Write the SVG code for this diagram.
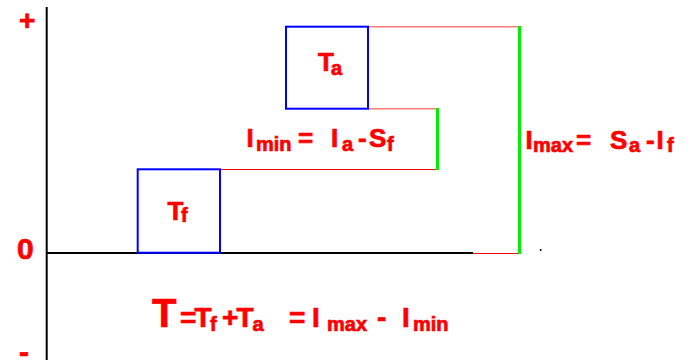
<svg xmlns="http://www.w3.org/2000/svg" width="691" height="360" viewBox="0 0 691 360">
<style>
text{font-family:"Liberation Sans",Arial,sans-serif;font-weight:bold;fill:#ff0000;stroke:#ff0000;stroke-width:0.7}
.b{font-size:26px}.s{font-size:20px}.m{font-size:28px}
.box{fill:none;stroke:#0000ff;stroke-width:2}
.axis{stroke:#000;stroke-width:2;fill:none}
.r{stroke:#ff0000;stroke-width:1;fill:none}
.rp{stroke:#ff7a7a;stroke-width:1.5;fill:none}
.g{stroke:#00ee00;stroke-width:3;fill:none}
</style>
<rect width="691" height="360" fill="#fff"/>
<g id="axes">
<line class="axis" x1="46.7" y1="7" x2="46.7" y2="360"/>
<line class="axis" x1="46" y1="253" x2="473" y2="253"/>
<text x="19" y="30" style="font-size:28px">+</text>
<text x="17" y="259" style="font-size:30px">0</text>
<text x="19" y="362" style="font-size:30px">-</text>
</g>
<g id="connectors">
<line class="rp" x1="368" y1="26.7" x2="519" y2="26.7"/>
<line class="rp" x1="368" y1="108.7" x2="437" y2="108.7"/>
<line class="r" x1="220" y1="169.5" x2="437" y2="169.5"/>
<line class="r" x1="473" y1="253.5" x2="519" y2="253.5"/>
<line class="g" x1="437.5" y1="108" x2="437.5" y2="170"/>
<line class="g" x1="519.5" y1="26" x2="519.5" y2="254"/>
<circle cx="540.7" cy="250" r="1" fill="#000"/>
</g>
<g id="Ta">
<rect class="box" x="286" y="26.7" width="82" height="82"/>
<text><tspan class="b" x="318" y="71">T</tspan><tspan class="s" x="331" y="75">a</tspan></text>
</g>
<g id="Tf">
<rect class="box" x="137.7" y="169.3" width="82.3" height="83.4"/>
<text><tspan class="b" x="167.5" y="220">T</tspan><tspan class="s" x="181" y="222">f</tspan></text>
</g>
<g id="Imin">
<text><tspan class="b" x="246.5" y="147">I</tspan><tspan class="s" x="256" y="151">min</tspan><tspan class="b" x="298" y="147">=</tspan><tspan class="b" x="331" y="147">I</tspan><tspan class="s" x="342" y="151">a</tspan><tspan class="b" x="358" y="147">-</tspan><tspan class="b" x="369" y="147">S</tspan><tspan class="s" x="387" y="151">f</tspan></text>
</g>
<g id="Imax">
<text><tspan class="b" x="525.5" y="148.5">I</tspan><tspan class="s" x="533" y="152">max</tspan><tspan class="b" x="576" y="148.5">=</tspan><tspan class="b" x="610" y="148.5">S</tspan><tspan class="s" x="629" y="152">a</tspan><tspan class="b" x="646" y="148.5">-</tspan><tspan class="b" x="656.5" y="148.5">I</tspan><tspan class="s" x="667" y="152">f</tspan></text>
</g>
<g id="formula">
<text><tspan x="152" y="327" style="font-size:40px">T</tspan><tspan class="m" x="180" y="327">=</tspan><tspan class="m" x="194.5" y="327">T</tspan><tspan class="s" x="210" y="331">f</tspan><tspan class="m" x="222" y="327">+</tspan><tspan class="m" x="236.5" y="327">T</tspan><tspan class="s" x="252.5" y="331">a</tspan><tspan class="m" x="289" y="327">=</tspan><tspan class="m" x="312" y="327">I</tspan><tspan class="s" x="327" y="331">max</tspan><tspan class="m" x="377" y="327">-</tspan><tspan class="m" x="402" y="327">I</tspan><tspan class="s" x="413" y="331">min</tspan></text>
</g>
</svg>
